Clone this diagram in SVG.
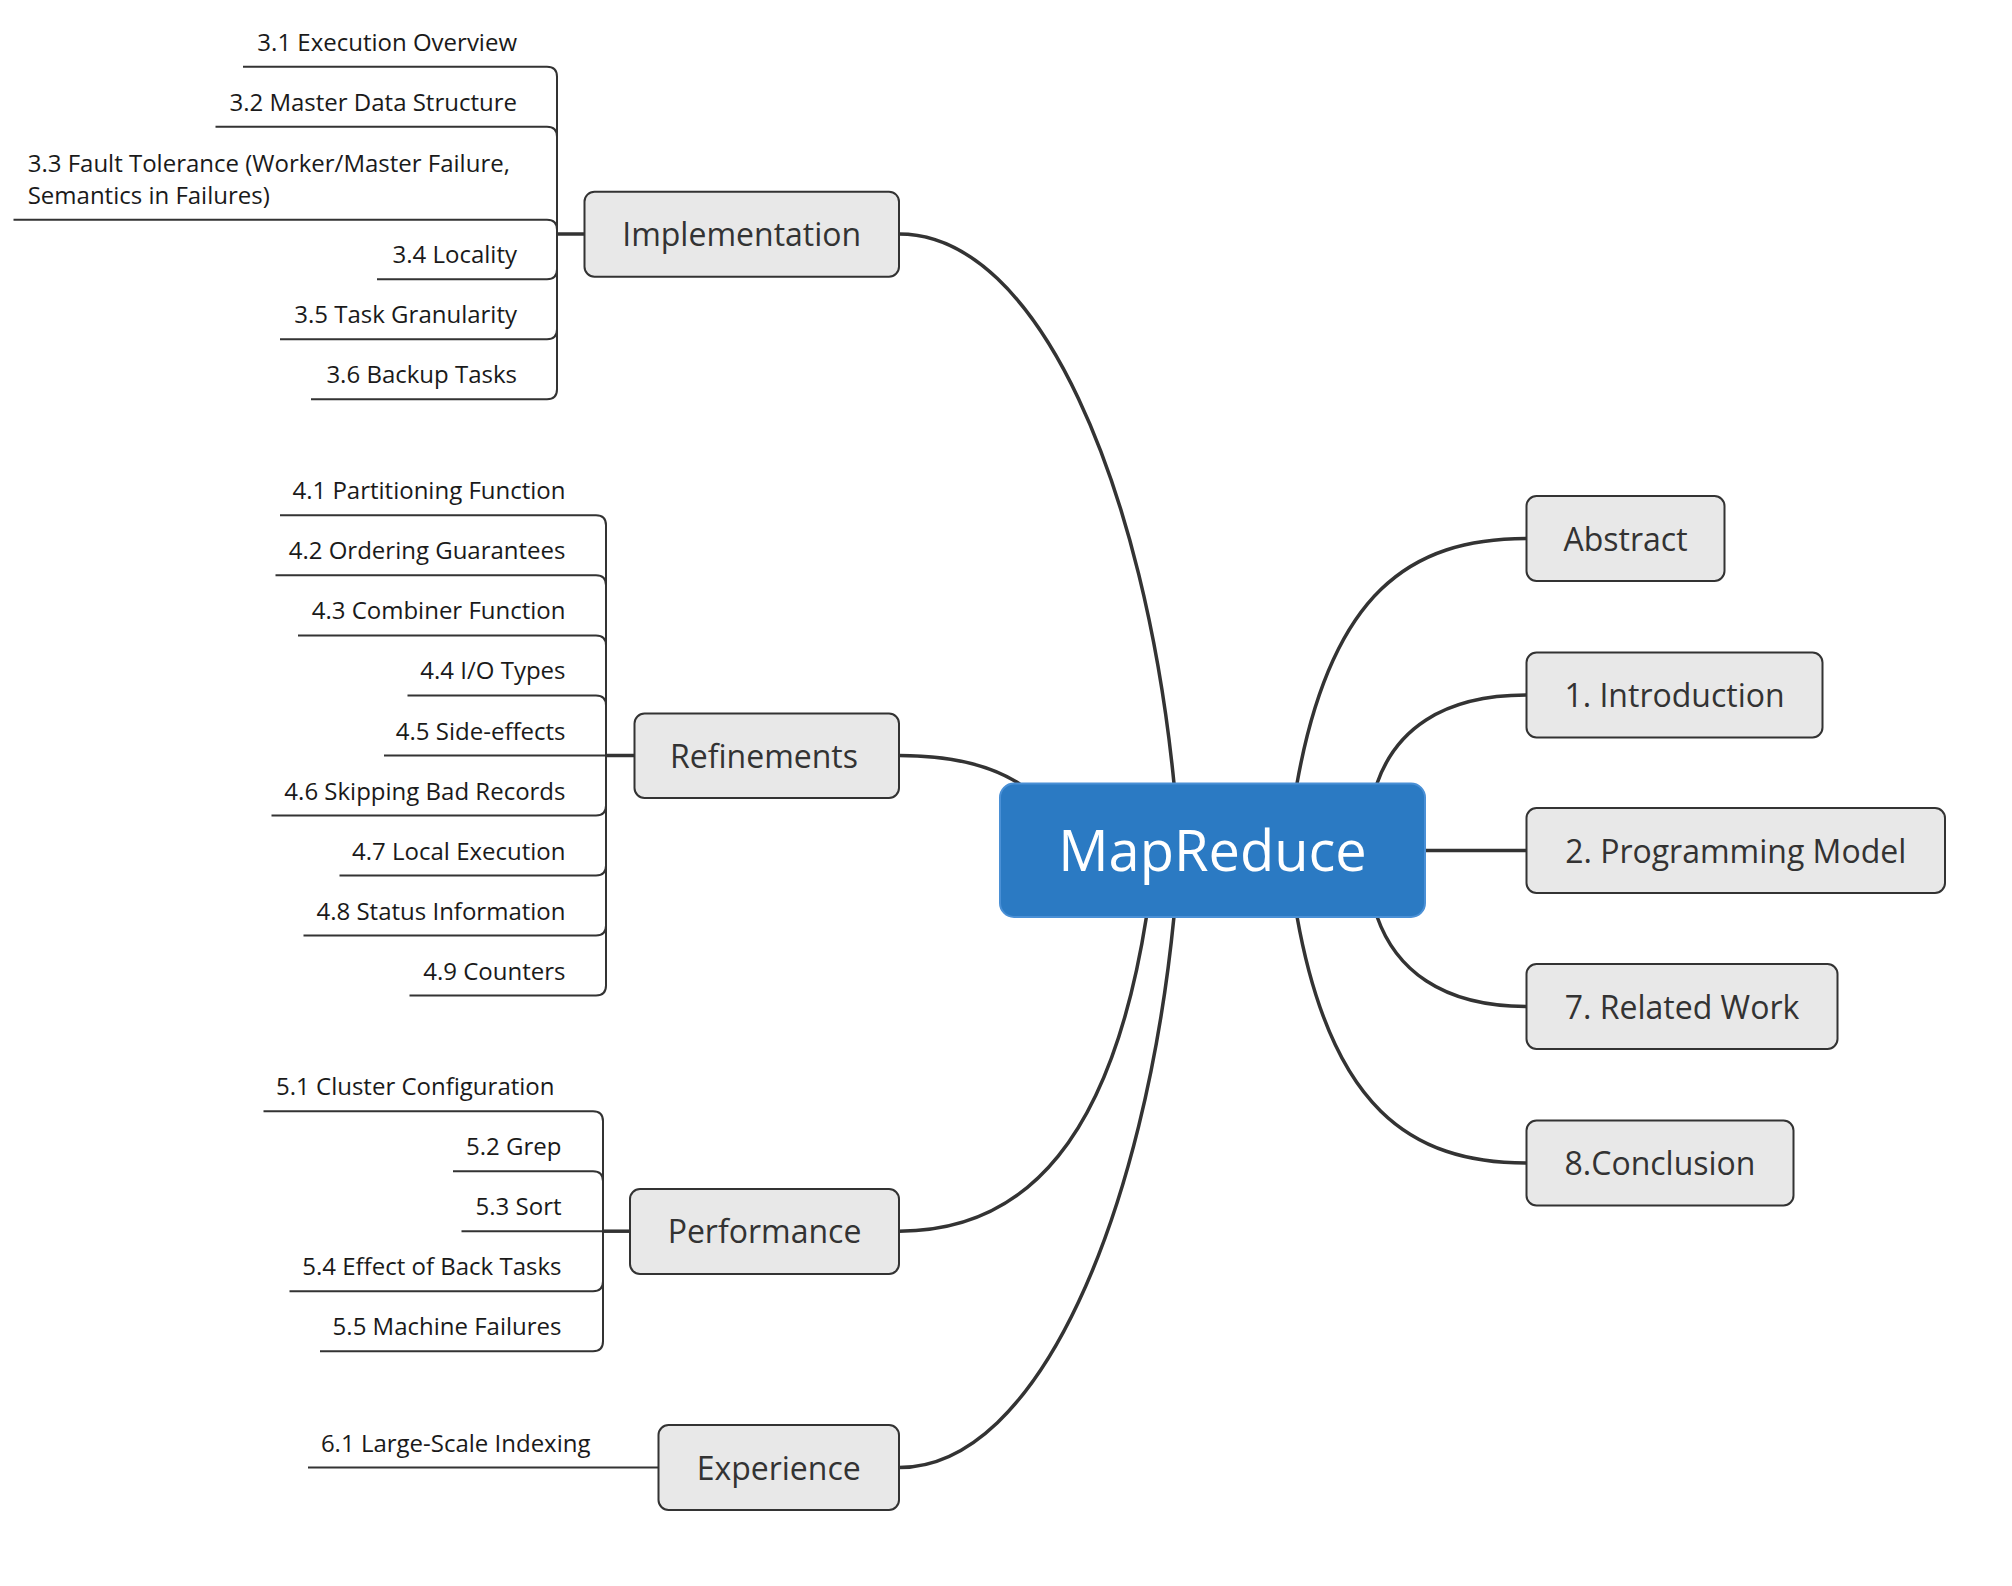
<svg xmlns="http://www.w3.org/2000/svg" width="2012" height="1586" viewBox="0 0 2012 1586">
<style>
.main{fill:none;stroke:#333;stroke-width:3.5;stroke-linecap:round}
.stub{fill:none;stroke:#333;stroke-width:3.5}
.sub{fill:none;stroke:#333;stroke-width:2}
.box{fill:#e8e8e8;stroke:#333;stroke-width:2}
.t1{font-family:"Open Sans","Liberation Sans",sans-serif;font-size:32px;fill:#333;text-anchor:middle}
.t2{font-family:"Open Sans","Liberation Sans",sans-serif;font-size:24px;fill:#1a1a1a;text-anchor:end}
.t2s{font-family:"Open Sans","Liberation Sans",sans-serif;font-size:24px;fill:#1a1a1a}
.tc{font-family:"Open Sans","Liberation Sans",sans-serif;font-size:56px;fill:#fff;text-anchor:middle}
</style>
<rect width="2012" height="1586" fill="#fff"/>
<g id="connectors">
<path class="main" d="M899 234 C1040 234 1145 490 1174 783.5"/>
<path class="main" d="M899 755.5 C950 755.5 990 765 1019 783.5"/>
<path class="main" d="M899 1231.2 C1028 1231.2 1112 1136 1146.5 916.5"/>
<path class="main" d="M899 1467.5 C1040 1467.5 1145 1210 1174 916.5"/>
<path class="main" d="M1297 783.5 C1331 593 1410 538.5 1526.5 538.5"/>
<path class="main" d="M1377 783.5 C1395 732 1440 695 1526.5 695"/>
<path class="main" d="M1425 850.5 H1526.5"/>
<path class="main" d="M1377 916.5 C1395 968 1440 1006.5 1526.5 1006.5"/>
<path class="main" d="M1297 916.5 C1331 1107 1410 1163 1526.5 1163"/>
<path class="stub" d="M584.5 234 H557"/>
<path class="sub" d="M557 234 V76.7 Q557 66.7 547 66.7 H243"/>
<path class="sub" d="M557 234 V136.7 Q557 126.7 547 126.7 H215.5"/>
<path class="sub" d="M557 234 V229.7 Q557 219.7 547 219.7 H13.5"/>
<path class="sub" d="M557 234 V269.3 Q557 279.3 547 279.3 H377"/>
<path class="sub" d="M557 234 V329.3 Q557 339.3 547 339.3 H280"/>
<path class="sub" d="M557 234 V389.3 Q557 399.3 547 399.3 H311"/>
<path class="stub" d="M634.5 755.5 H606"/>
<path class="sub" d="M606 755.5 V525.3 Q606 515.3 596 515.3 H280"/>
<path class="sub" d="M606 755.5 V585.3 Q606 575.3 596 575.3 H275.5"/>
<path class="sub" d="M606 755.5 V645.4 Q606 635.4 596 635.4 H298"/>
<path class="sub" d="M606 755.5 V705.4 Q606 695.4 596 695.4 H407.5"/>
<path class="sub" d="M606 755.5 H384"/>
<path class="sub" d="M606 755.5 V805.5 Q606 815.5 596 815.5 H271.5"/>
<path class="sub" d="M606 755.5 V865.5 Q606 875.5 596 875.5 H339.5"/>
<path class="sub" d="M606 755.5 V925.6 Q606 935.6 596 935.6 H303.5"/>
<path class="sub" d="M606 755.5 V985.6 Q606 995.6 596 995.6 H409.5"/>
<path class="stub" d="M630 1231.2 H603"/>
<path class="sub" d="M603 1231.2 V1121.2 Q603 1111.2 593 1111.2 H263.5"/>
<path class="sub" d="M603 1231.2 V1181.2 Q603 1171.2 593 1171.2 H453"/>
<path class="sub" d="M603 1231.2 H461.5"/>
<path class="sub" d="M603 1231.2 V1281.2 Q603 1291.2 593 1291.2 H289.5"/>
<path class="sub" d="M603 1231.2 V1341.2 Q603 1351.2 593 1351.2 H320"/>
<path class="sub" d="M658.5 1467.5 H308"/>
</g>
<g id="center">
<rect x="1000" y="783.5" width="425" height="133.5" rx="14" fill="#2b7ac3" stroke="#4a90d6" stroke-width="2"/>
<text class="tc" x="1212.5" y="870.5">MapReduce</text>
</g>
<g id="abstract"><rect class="box" x="1526.5" y="496" width="198" height="85" rx="10"/><text class="t1" x="1625.5" y="550.5">Abstract</text></g>
<g id="introduction"><rect class="box" x="1526.5" y="652.5" width="296" height="85" rx="10"/><text class="t1" x="1674.5" y="707">1. Introduction</text></g>
<g id="programming-model"><rect class="box" x="1526.5" y="808" width="418.5" height="85" rx="10"/><text class="t1" x="1735.7" y="862.5">2. Programming Model</text></g>
<g id="related-work"><rect class="box" x="1526.5" y="964" width="311" height="85" rx="10"/><text class="t1" x="1682" y="1018.5">7. Related Work</text></g>
<g id="conclusion"><rect class="box" x="1526.5" y="1120.5" width="267" height="85" rx="10"/><text class="t1" x="1660" y="1175">8.Conclusion</text></g>
<g id="implementation"><rect class="box" x="584.5" y="191.7" width="314.5" height="85" rx="10"/><text class="t1" x="741.7" y="246">Implementation</text></g>
<g id="refinements"><rect class="box" x="634.5" y="713.5" width="264.5" height="84.5" rx="10"/><text class="t1" x="764" y="767.5">Refinements</text></g>
<g id="performance"><rect class="box" x="630" y="1189" width="269" height="85" rx="10"/><text class="t1" x="764.5" y="1243.2">Performance</text></g>
<g id="experience"><rect class="box" x="658.5" y="1425" width="240.5" height="85" rx="10"/><text class="t1" x="778.7" y="1479.5">Experience</text></g>
<g id="impl-items">
<text class="t2" x="517" y="50.7">3.1 Execution Overview</text>
<text class="t2" x="517" y="110.7">3.2 Master Data Structure</text>
<text class="t2s" x="27.7" y="171.7">3.3 Fault Tolerance (Worker/Master Failure,</text>
<text class="t2s" x="27.7" y="203.7">Semantics in Failures)</text>
<text class="t2" x="517" y="263.3">3.4 Locality</text>
<text class="t2" x="517" y="323.3">3.5 Task Granularity</text>
<text class="t2" x="517" y="383.3">3.6 Backup Tasks</text>
</g>
<g id="ref-items">
<text class="t2" x="565.5" y="499.3">4.1 Partitioning Function</text>
<text class="t2" x="565.5" y="559.3">4.2 Ordering Guarantees</text>
<text class="t2" x="565.5" y="619.4">4.3 Combiner Function</text>
<text class="t2" x="565.5" y="679.4">4.4 I/O Types</text>
<text class="t2" x="565.5" y="739.5">4.5 Side-effects</text>
<text class="t2" x="565.5" y="799.5">4.6 Skipping Bad Records</text>
<text class="t2" x="565.5" y="859.5">4.7 Local Execution</text>
<text class="t2" x="565.5" y="919.6">4.8 Status Information</text>
<text class="t2" x="565.5" y="979.6">4.9 Counters</text>
</g>
<g id="perf-items">
<text class="t2" x="554.5" y="1095.2">5.1 Cluster Configuration</text>
<text class="t2" x="561.5" y="1155.2">5.2 Grep</text>
<text class="t2" x="561.5" y="1215.2">5.3 Sort</text>
<text class="t2" x="561.5" y="1275.2">5.4 Effect of Back Tasks</text>
<text class="t2" x="561.5" y="1335.2">5.5 Machine Failures</text>
</g>
<g id="exp-items">
<text class="t2" x="590.5" y="1451.5">6.1 Large-Scale Indexing</text>
</g>
</svg>
